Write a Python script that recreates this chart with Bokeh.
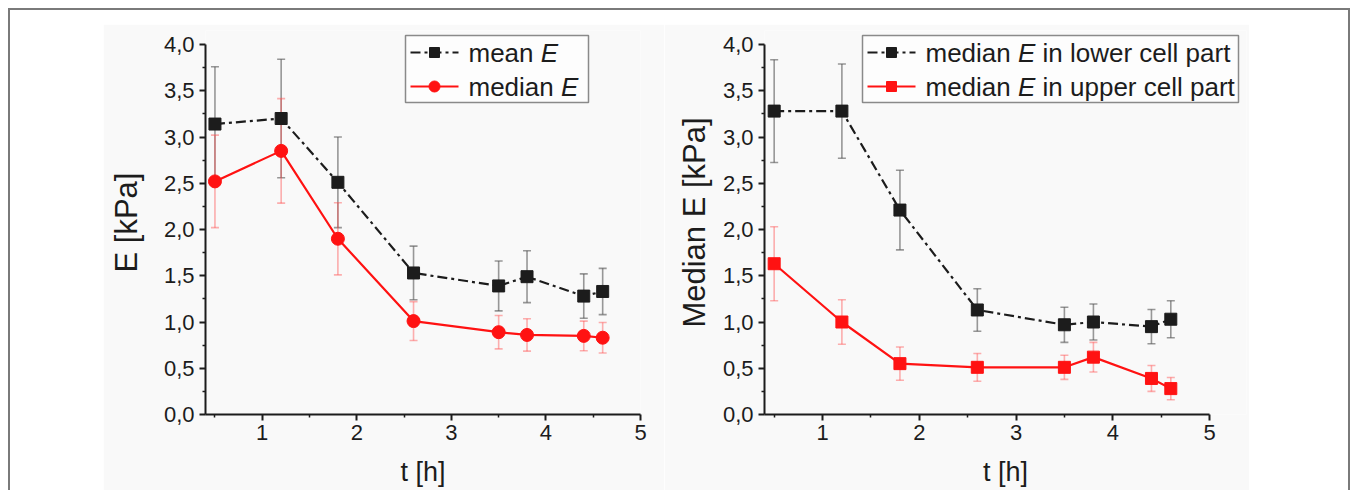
from bokeh.plotting import figure
from bokeh.models import ColumnDataSource, Whisker, TeeHead, FixedTicker, Spacer
from bokeh.layouts import row, column
from bokeh.core.properties import value
from bokeh.embed import file_html
from bokeh.resources import INLINE

# ---------------- data ----------------
t = [0.5, 1.2, 1.8, 2.6, 3.5, 3.8, 4.4, 4.6]

mean_E = [3.14, 3.20, 2.51, 1.53, 1.39, 1.49, 1.28, 1.33]
mean_E_err = [0.62, 0.64, 0.49, 0.29, 0.27, 0.28, 0.24, 0.25]
median_E = [2.52, 2.85, 1.90, 1.01, 0.89, 0.86, 0.85, 0.83]
median_E_err = [0.50, 0.565, 0.39, 0.21, 0.18, 0.175, 0.16, 0.165]

lower_E = [3.28, 3.28, 2.21, 1.13, 0.97, 1.00, 0.95, 1.03]
lower_E_err = [0.555, 0.51, 0.43, 0.23, 0.19, 0.195, 0.185, 0.20]
upper_E = [1.63, 1.00, 0.55, 0.51, 0.51, 0.62, 0.39, 0.28]
upper_E_err = [0.40, 0.24, 0.18, 0.15, 0.13, 0.16, 0.14, 0.12]

y_ticks = [0.0, 0.5, 1.0, 1.5, 2.0, 2.5, 3.0, 3.5, 4.0]
y_tick_labels = ["0,0", "0,5", "1,0", "1,5", "2,0", "2,5", "3,0", "3,5", "4,0"]
y_minor = [0.25, 0.75, 1.25, 1.75, 2.25, 2.75, 3.25, 3.75]
x_ticks = [1, 2, 3, 4, 5]
x_minor = [0.5, 1.5, 2.5, 3.5, 4.5]

left_legend = [("mean ", "E", ""), ("median ", "E", "")]
right_legend = [("median ", "E", " in lower cell part"), ("median ", "E", " in upper cell part")]

# ---------------- style ----------------
FONT = "Liberation Sans"
PANEL = "#f9f9f9"
INK = "#1c1c1c"
RED = "#ff1212"
FRAME_GRAY = "#7a7a7a"
X0, X_AXIS_END, Y_AXIS_END = 0.4, 5.0, 4.0
FRAME_H = 384
PX_PER_Y = 92.5
Y_TOP = FRAME_H / PX_PER_Y
FIG_H = 466
BORDER_TOP = 6

# Arial / Liberation Sans advance widths (em)
ADV = {" ": .278, "m": .833, "e": .556, "a": .556, "n": .556, "d": .556, "i": .222,
       "E": .667, "l": .222, "o": .556, "w": .722, "r": .333, "c": .5, "p": .556,
       "t": .278, "u": .556}


def text_w(s, size):
    return sum(ADV.get(ch, .556) for ch in s) * size


def make_panel(width, border_left, border_right, x_end, ylabel, ylabel_standoff,
               series, legend_labels, legend_box):
    p = figure(width=width, height=FIG_H, x_range=(X0, x_end), y_range=(0, Y_TOP),
               output_backend="svg", toolbar_location=None,
               min_border_left=border_left, min_border_right=border_right,
               min_border_top=BORDER_TOP, min_border_bottom=FIG_H - BORDER_TOP - FRAME_H)
    p.background_fill_color = PANEL
    p.border_fill_color = PANEL
    p.outline_line_color = None
    p.grid.visible = False

    frame_w = width - border_left - border_right
    sx = frame_w / (x_end - X0)
    sy = FRAME_H / Y_TOP
    fx = lambda px: X0 + px / sx
    fy = lambda py: Y_TOP - py / sy

    for ax in (p.xaxis[0], p.yaxis[0]):
        ax.axis_line_width = 2
        ax.axis_line_color = INK
        ax.major_tick_line_width = 2
        ax.major_tick_line_color = INK
        ax.minor_tick_line_width = 1.5
        ax.minor_tick_line_color = INK
        ax.major_tick_in = 0
        ax.major_tick_out = 6
        ax.minor_tick_in = 0
        ax.minor_tick_out = 3
        ax.major_label_text_font = FONT
        ax.major_label_text_font_size = "22px"
        ax.major_label_text_color = INK
        ax.axis_label_text_font = FONT
        ax.axis_label_text_font_style = "normal"
        ax.axis_label_text_color = INK
        ax.major_label_standoff = 5

    p.xaxis.major_label_standoff = 4
    p.xaxis.bounds = (X0, X_AXIS_END)
    p.yaxis.bounds = (0, Y_AXIS_END)
    p.xaxis.ticker = FixedTicker(ticks=x_ticks, minor_ticks=x_minor)
    p.yaxis.ticker = FixedTicker(ticks=y_ticks, minor_ticks=y_minor)
    p.yaxis.major_label_overrides = {v: s for v, s in zip(y_ticks, y_tick_labels)}
    p.xaxis.axis_label = "t [h]"
    p.xaxis.axis_label_text_font_size = "27px"
    p.xaxis.axis_label_standoff = 14
    p.yaxis.axis_label = ylabel
    p.yaxis.axis_label_text_font_size = "31px"
    p.yaxis.axis_label_standoff = ylabel_standoff

    # error bars first
    for ys, err, color, bar_color, bar_alpha, dash, marker, msize in series:
        src = ColumnDataSource(dict(t=t, y=ys,
                                    lo=[a - b for a, b in zip(ys, err)],
                                    hi=[a + b for a, b in zip(ys, err)]))
        w = Whisker(base="t", upper="hi", lower="lo", source=src,
                    line_color=bar_color, line_alpha=bar_alpha, line_width=1.6,
                    upper_head=TeeHead(size=8, line_color=bar_color, line_alpha=bar_alpha, line_width=1.6),
                    lower_head=TeeHead(size=8, line_color=bar_color, line_alpha=bar_alpha, line_width=1.6),
                    level="underlay")
        p.add_layout(w)
    for ys, err, color, bar_color, bar_alpha, dash, marker, msize in series:
        src = ColumnDataSource(dict(t=t, y=ys))
        p.line("t", "y", source=src, line_color=color, line_width=2.2, line_dash=dash)
        p.scatter("t", "y", source=src, marker=marker, size=msize,
                  fill_color=color, line_color=color)

    # legend (manual, so that E can be italic)
    bl, bt, bw, bh = legend_box
    p.quad(left=[fx(bl)], right=[fx(bl + bw)], top=[fy(bt)], bottom=[fy(bt + bh)],
           fill_color="#fdfdfd", line_color="#8a8a8a", line_width=1.5)
    row_y = [bt + 17, bt + 51]
    fs = 26
    for (ys, err, color, bar_color, bar_alpha, dash, marker, msize), (a, e, b), ry in zip(series, legend_labels, row_y):
        yy = fy(ry)
        p.line([fx(bl + 5), fx(bl + 53)], [yy, yy], line_color=color, line_width=2.2, line_dash=dash)
        p.scatter([fx(bl + 29)], [yy], marker=marker, size=msize - 2, fill_color=color, line_color=color)
        tx = bl + 63
        p.text([fx(tx)], [yy], text=[a.strip()], text_font=value(FONT), text_font_size=f"{fs}px",
               text_baseline="middle", text_align="left", text_color=INK)
        tx += text_w(a, fs)
        p.text([fx(tx)], [yy], text=[e], text_font=value(FONT), text_font_size=f"{fs}px",
               text_font_style="italic", text_baseline="middle", text_align="left", text_color=INK)
        tx += text_w(e, fs)
        if b:
            tx += text_w(b[: len(b) - len(b.lstrip())], fs)
            p.text([fx(tx)], [yy], text=[b.strip()], text_font=value(FONT), text_font_size=f"{fs}px",
                   text_baseline="middle", text_align="left", text_color=INK)
    return p


series_left = [
    (mean_E, mean_E_err, INK, "#555555", 0.6, "10 4 3 4", "square", 12),
    (median_E, median_E_err, RED, "#ff5050", 0.45, "solid", "circle", 13),
]
series_right = [
    (lower_E, lower_E_err, INK, "#555555", 0.6, "10 4 3 4", "square", 12),
    (upper_E, upper_E_err, RED, "#ff5050", 0.45, "solid", "square", 12),
]

# left panel: frame 435 px wide (t 0.4 .. 5.0)
p1 = make_panel(561, 102, 24, X_AXIS_END, "E [kPa]", 17, series_left, left_legend,
                (200, 5, 183, 67))
# right panel: 445 px for t 0.4 .. 5.0, frame extends further right for the legend
right_frame_w = 585 - 100 - 3
p2 = make_panel(585, 100, 3, X0 + (X_AXIS_END - X0) * right_frame_w / 445, "Median E [kPa]", 8,
                series_right, right_legend, (98, 5, 376, 67))

INNER_H = 2 + 14 + FIG_H
inner = column(
    Spacer(width=1338, height=2, styles={"background-color": FRAME_GRAY}),
    Spacer(width=1338, height=14),
    row(Spacer(width=93, height=FIG_H), p1, p2, Spacer(width=99, height=FIG_H)),
)
framed = row(
    Spacer(width=2, height=INNER_H, styles={"background-color": FRAME_GRAY}),
    inner,
    Spacer(width=2, height=INNER_H, styles={"background-color": FRAME_GRAY}),
)
layout = row(
    Spacer(width=8, height=8 + INNER_H),
    column(Spacer(width=1342, height=8), framed),
)

open("out.html", "w").write(file_html(layout, INLINE))
